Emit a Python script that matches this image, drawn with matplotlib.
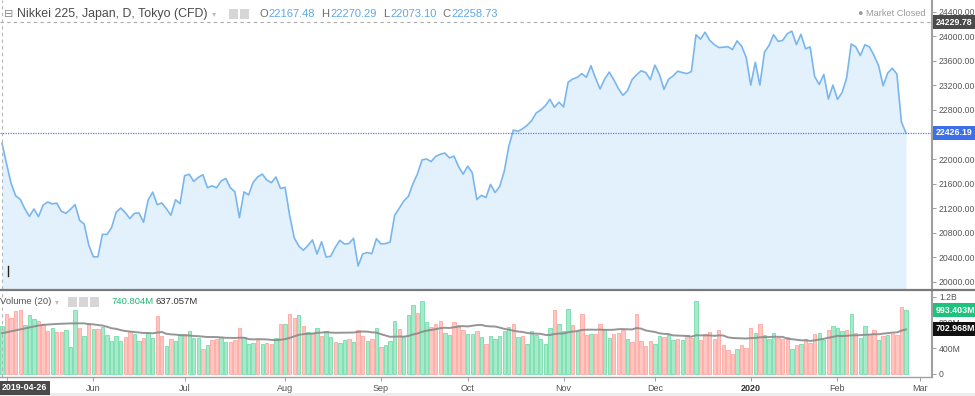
import numpy as np
import pandas as pd
import matplotlib
matplotlib.use('Agg')
import matplotlib.pyplot as plt
from matplotlib.patches import Rectangle
from matplotlib.lines import Line2D
import matplotlib.transforms as mtransforms

plt.rcParams['font.family'] = ['Liberation Sans', 'DejaVu Sans']

# ---------------- data ----------------
holidays = ['2019-04-29', '2019-04-30', '2019-05-01', '2019-05-02', '2019-05-03', '2019-05-06',
            '2019-07-15', '2019-08-12', '2019-09-16', '2019-09-23', '2019-10-14', '2019-10-22',
            '2019-11-04', '2019-12-31', '2020-01-01', '2020-01-02', '2020-01-03', '2020-01-13',
            '2020-02-11', '2020-02-24']

close = [22258.73,
         21923.72, 21602.59, 21402.13, 21344.92, 21191.28, 21067.23, 21188.56, 21062.98, 21250.09, 21301.73,
         21272.45, 21283.37, 21151.14, 21117.22, 21182.58, 21260.14, 21003.37, 20942.53, 20601.19,
         20410.88, 20408.54, 20776.10, 20774.04, 20884.71, 21134.42, 21204.28, 21129.72, 21032.00, 21116.89,
         21124.00, 20972.71, 21333.87, 21462.86, 21258.64, 21285.99, 21193.81, 21086.59, 21338.17, 21275.92,
         21729.97, 21754.27, 21638.16, 21702.45, 21746.38, 21534.35, 21565.15, 21533.48, 21643.53, 21685.90,
         21535.25, 21469.18, 21046.24, 21466.99, 21416.79, 21620.88, 21709.57, 21756.55, 21658.15, 21616.80,
         21709.31, 21521.53,
         21540.99, 21087.16, 20720.29, 20585.31, 20516.56, 20593.35, 20684.82, 20455.44, 20655.13, 20405.65,
         20418.81, 20563.16, 20677.22, 20618.57, 20628.01, 20710.91, 20261.04, 20456.08, 20479.42, 20460.93,
         20704.37,
         20620.19, 20625.16, 20649.14, 21085.94, 21199.57, 21318.42, 21392.10, 21597.76, 21759.61, 21988.29,
         22001.32, 21960.71, 22044.45, 22079.09, 22098.84, 22020.15, 22048.24, 21878.90, 21755.84,
         21885.24, 21778.61, 21341.74, 21410.20, 21375.25, 21587.78, 21456.38, 21551.98, 21798.87, 22207.21,
         22472.92, 22451.86, 22492.68, 22548.90, 22625.38, 22750.60, 22799.81, 22867.27, 22974.13, 22843.12,
         22927.04,
         22850.77, 23251.99, 23303.82, 23330.32, 23391.87, 23331.84, 23520.01, 23319.87, 23141.55, 23303.32,
         23416.76, 23292.65, 23148.57, 23038.58, 23112.88, 23292.81, 23373.32, 23437.77, 23409.14, 23293.91,
         23529.50, 23379.81, 23135.23, 23300.09, 23354.40, 23430.70, 23410.19, 23391.86, 23424.81, 24023.10,
         23952.35, 24066.12, 23934.43, 23864.85, 23816.63, 23821.11, 23830.58, 23782.87, 23924.92, 23837.72,
         23656.62,
         23204.86, 23575.72, 23204.76, 23739.87, 23850.57, 24025.17, 23916.58, 23933.13, 24041.26, 24083.51,
         23864.56, 24031.35, 23795.44, 23827.18, 23343.51, 23215.71, 23379.40, 22977.75, 23205.18,
         22971.94, 23084.59, 23319.56, 23873.59, 23827.98, 23685.98, 23861.21, 23827.73, 23687.59, 23523.24,
         23193.80, 23400.70, 23479.15, 23386.74, 22605.41, 22426.19]

# volume in millions
volume = [741, 934, 867, 986, 996, 763, 919, 851, 825, 773,
          670, 711, 649, 649, 685, 415, 996, 711, 592, 789,
          695, 700, 727, 607, 514, 592, 519, 571, 670, 623,
          519, 555, 644, 555, 903, 597, 436, 540, 514, 623,
          623, 675, 555, 555, 384, 452, 529, 540, 581, 493,
          500, 525, 714, 574, 474, 488, 526, 474, 482, 474,
          558, 773, 773, 929, 870, 920, 747, 654, 644, 716,
          592, 664, 576, 498, 483, 524, 540, 498, 690, 592,
          514, 550, 716, 420, 446, 514, 820, 695, 586, 913,
          1080, 950, 1137, 808, 732, 773, 830, 640, 612, 810,
          758, 680, 618, 618, 664, 571, 462, 592, 540, 592,
          664, 732, 773, 571, 586, 472, 664, 602, 550, 472,
          716, 991, 773, 670, 1007, 758, 670, 929, 602, 618,
          618, 784, 706, 560, 628, 644, 690, 540, 498, 929,
          514, 436, 509, 462, 586, 576, 602, 524, 540, 524,
          602, 560, 1137, 524, 628, 654, 540, 690, 446, 368,
          311, 389, 446, 405, 716, 633, 784, 602, 545, 633,
          560, 540, 581, 384, 446, 472, 550, 488, 623, 633,
          535, 690, 742, 721, 664, 690, 939, 644, 560, 742,
          628, 680, 535, 586, 612, 628, 612, 1043, 993.403]

# candle direction per bar: u = up (green), d = down (red)
direction = """
u d d d d u u u d d   d u d d u u u d u d   u d u u u u u d d u   u d u u d d u d u u
d u u u d u d d u u   d d d u u u d u d d   u d u d d u d u d u   d u u d u u d u d d
u d u d u u u d u u   u d u u d d d u u d   d d u u d u d u u u   u u d u d u u u u u
u d u u u d u d d u   d d u u d d d u d d   d d d u u d u u d u   d d u d d d d d d d
d u d d d u d u u u   d d d u d u d d d u   u d u u u d u d u u   d d u d u d d d u
""".split()

ma_head = [637, 650, 665, 680, 695, 710, 725, 740, 755, 765, 770, 775, 780, 783, 786, 788, 789, 789, 789]

# ---------------- derived ----------------
n = len(close)
dates_ext = pd.bdate_range('2019-04-26', '2020-03-02', freq='C', holidays=holidays)
idx = np.arange(n)
dir_list = list(direction)[:n]
while len(dir_list) < n:
    dir_list.append('u')

ma = pd.Series(volume, dtype=float).rolling(20).mean().to_numpy()
ma[:len(ma_head)] = ma_head

month_pos, month_lab = [], []
prev = None
for i, d in enumerate(dates_ext):
    key = (d.year, d.month)
    if i > 0 and key != prev:
        month_pos.append(i)
        month_lab.append('2020' if d.month == 1 else d.strftime('%b'))
    prev = key

# ---------------- figure ----------------
W, H = 975, 396
fig = plt.figure(figsize=(W / 100, H / 100), dpi=100)


def rect(x0, y0, x1, y1):
    return [x0 / W, 1 - y1 / H, (x1 - x0) / W, (y1 - y0) / H]


def fx(x):
    return x / W


def fy(y):
    return 1 - y / H


XL = (-0.44, 203.7)
PL = (19886, 24590)
VL = (-47, 1293)

line_c = '#7ab6ee'
fill_c = '#e3f1fc'
axis_c = '#a0a0a0'
txt_c = '#555555'

# price panel
ax = fig.add_axes(rect(0, 0, 932, 289))
ax.fill_between(idx, close, PL[0], color=fill_c, lw=0)
ax.plot(idx, close, color=line_c, lw=1.2, solid_joinstyle='round')
ax.set_xlim(*XL)
ax.set_ylim(*PL)
ax.axhline(24229.78, color='#aaaaaa', lw=0.8, ls=(0, (3, 3)))
ax.axhline(close[-1], color='#5b7ff0', lw=0.9, ls=(0, (1, 1)))
ax.axvline(0, color='#b5b5b5', lw=0.8, ls=(0, (3, 3)))
for s in ['top', 'left', 'bottom']:
    ax.spines[s].set_visible(False)
ax.spines['right'].set_color(axis_c)
ax.spines['right'].set_linewidth(1.5)
ax.set_xticks([])
ax.yaxis.tick_right()
pticks = np.arange(20000, 24401, 400)
ax.set_yticks(pticks)
# the 22400 label is hidden behind the last-price marker in the reference
ax.set_yticklabels(['' if v == 22400 else '%.2f' % v for v in pticks])
ax.tick_params(axis='y', length=3, width=0.7, color=axis_c, labelsize=6.2, labelcolor=txt_c, pad=2)

tb = mtransforms.blended_transform_factory(ax.transAxes, ax.transData)
ax.text(1.004, 24229.78, '24229.78', transform=tb, fontsize=6.4, color='white', va='center', ha='left',
        fontweight='bold', bbox=dict(boxstyle='square,pad=0.28', fc='#4a4a4a', ec='none'), clip_on=False,
        zorder=10)
ax.text(1.004, close[-1], '%.2f' % close[-1], transform=tb, fontsize=6.4, color='white', va='center',
        ha='left', fontweight='bold', bbox=dict(boxstyle='square,pad=0.28', fc='#3d6fe8', ec='none'),
        clip_on=False, zorder=10)

# volume panel
av = fig.add_axes(rect(0, 291, 932, 377))
up_face, up_edge = '#a6eaca', '#74dcab'
dn_face, dn_edge = '#ffc6c2', '#ffa7a1'
faces = [up_face if c == 'u' else dn_face for c in dir_list]
edges = [up_edge if c == 'u' else dn_edge for c in dir_list]
av.bar(idx, volume, width=0.74, color=faces, edgecolor=edges, linewidth=0.6)
av.plot(idx, ma, color='#8a8a8a', lw=1.4, alpha=0.9)
av.axvline(0, color='#b5b5b5', lw=0.8, ls=(0, (3, 3)))
av.set_xlim(*XL)
av.set_ylim(*VL)
av.spines['top'].set_visible(False)
av.spines['left'].set_visible(False)
av.spines['right'].set_color(axis_c)
av.spines['right'].set_linewidth(1.5)
av.spines['bottom'].set_color(axis_c)
av.spines['bottom'].set_linewidth(1.0)
av.yaxis.tick_right()
av.set_yticks([0, 400, 800, 1200])
av.set_yticklabels(['0', '400M', '800M', '1.2B'])
av.tick_params(axis='y', length=3, width=0.7, color=axis_c, labelsize=6.2, labelcolor=txt_c, pad=2)
av.set_xticks(month_pos)
av.set_xticklabels(month_lab)
av.tick_params(axis='x', length=3, width=0.7, color=axis_c, labelsize=6.5, labelcolor=txt_c, pad=2)
for lab in av.get_xticklabels():
    if lab.get_text() == '2020':
        lab.set_fontweight('bold')
        lab.set_color('#333333')

tv = mtransforms.blended_transform_factory(av.transAxes, av.transData)
av.text(1.004, volume[-1], '%.3fM' % volume[-1], transform=tv, fontsize=6.4, color='white', va='center',
        ha='left', fontweight='bold', bbox=dict(boxstyle='square,pad=0.28', fc='#1fc27c', ec='none'),
        clip_on=False, zorder=10)
av.text(1.004, 702.968, '702.968M', transform=tv, fontsize=6.4, color='white', va='center', ha='left',
        fontweight='bold', bbox=dict(boxstyle='square,pad=0.28', fc='#111111', ec='none'), clip_on=False,
        zorder=10)

# separator between panels
fig.add_artist(Line2D([0, 1], [fy(290), fy(290)], color='#7a7a7a', lw=1.6))
# bottom strip
fig.add_artist(Rectangle((0, 0), 1, fy(393), color='#ececec', lw=0))

# date box at crosshair
fig.text(fx(2), fy(388), '2019-04-26', fontsize=6.4, color='white', va='center', ha='left',
         fontweight='bold', bbox=dict(boxstyle='square,pad=0.3', fc='#4a4a4a', ec='none'))

# header texts
fig.text(fx(4), fy(14), '\u229f', fontsize=8, color='#888888', va='center', ha='left',
         family=['DejaVu Sans'])
fig.text(fx(17), fy(14), 'Nikkei 225, Japan, D, Tokyo (CFD)', fontsize=8.9, color='#4a4a4a',
         va='center', ha='left')
fig.text(fx(212), fy(14), '\u25be', fontsize=6, color='#bbbbbb', va='center', ha='left',
         family=['DejaVu Sans'])
for x0 in (229, 240):
    fig.add_artist(Rectangle((fx(x0), fy(19)), 9 / W, 10 / H, color='#d6d6d6', lw=0))
val_c = '#5ea7ea'
lab_c = '#6e6e6e'
for lx, letter, vx, val in [(259, 'O', 268, '22167.48'), (321, 'H', 330, '22270.29'),
                            (383, 'L', 390, '22073.10'), (442, 'C', 451, '22258.73')]:
    fig.text(fx(lx), fy(14), letter, fontsize=8, color=lab_c, va='center', ha='left')
    fig.text(fx(vx), fy(14), val, fontsize=8, color=val_c, va='center', ha='left')
fig.text(fx(926), fy(13), '\u25cf Market Closed', fontsize=6.6, color='#9a9a9a', va='center', ha='right',
         family=['Liberation Sans', 'DejaVu Sans'])

fig.text(fx(0), fy(302), 'Volume (20)', fontsize=6.8, color='#555555', va='center', ha='left')
fig.text(fx(55), fy(302), '\u25be', fontsize=5.5, color='#bbbbbb', va='center', ha='left',
         family=['DejaVu Sans'])
for x0 in (68, 79, 90):
    fig.add_artist(Rectangle((fx(x0), fy(307)), 9 / W, 10 / H, color='#d6d6d6', lw=0))
fig.text(fx(111), fy(302), '740.804M', fontsize=6.8, color='#22b573', va='center', ha='left')
fig.text(fx(155), fy(302), '637.057M', fontsize=6.8, color='#333333', va='center', ha='left')

# cursor mark
fig.add_artist(Line2D([fx(8), fx(8)], [fy(266), fy(276)], color='#222222', lw=1.0))

fig.savefig('out.png', dpi=100)
